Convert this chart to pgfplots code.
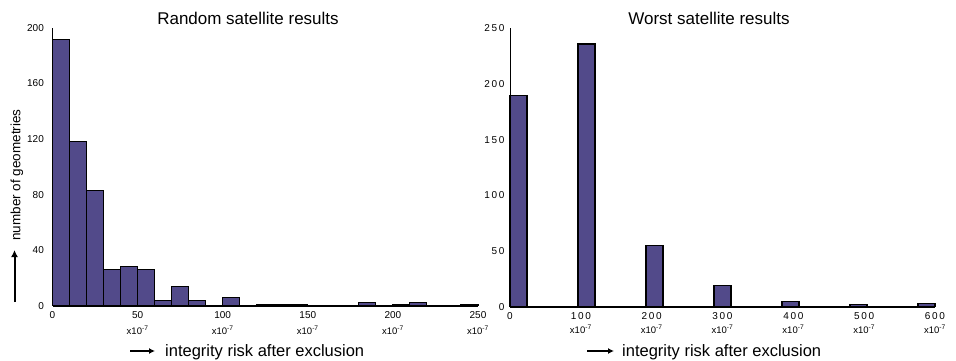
\documentclass[border=0pt]{standalone}
\usepackage{fontspec}
\setmainfont{Liberation Sans}
\usepackage{pgfplots}
\pgfplotsset{compat=1.18}
\usetikzlibrary{arrows.meta}
\definecolor{barc}{RGB}{82,74,138}
\newcommand{\xs}{{\fontsize{9.5}{10}\selectfont x10\textsuperscript{-7}}}
\begin{document}
\begin{tikzpicture}[x=1pt,y=1pt]
\useasboundingbox (0,0) rectangle (956,360);
\pgfplotsset{every axis/.append style={
  scale only axis, clip=false,
  /pgf/number format/assume math mode=true,
  axis lines=left, axis line style={-, line width=0.9pt},
  x axis line style={line width=2pt},
  tick style={draw=none},
  ymin=0,
  xticklabel style={align=center, font=\fontsize{10}{12}\selectfont},
  yticklabel style={font=\fontsize{10}{12}\selectfont},
}}
\begin{axis}[at={(52.5pt,54.3pt)}, anchor=south west,
  width=425.5pt, height=277.7pt,
  xmin=0, xmax=250, ymax=200,
  ytick={0,40,80,120,160,200},
  yticklabels={0,40,80,120,160,200},
  yticklabel style={xshift=-3pt},
  xtick={0,50,100,150,200,250},
  xticklabels={0, 50\\[4pt]\xs, 100\\[4pt]\xs, 150\\[4pt]\xs, 200\\[4pt]\xs, 250\\[4pt]\xs},
]
\addplot[ybar interval, fill=barc, draw=black, line width=1.1pt] coordinates {
(0,192)(10,118)(20,83)(30,26)(40,28)(50,26)(60,4)(70,14)(80,4)(90,0)
(100,6)(110,0)(120,1)(130,1)(140,1)(150,0)(160,0)(170,0)(180,2)(190,0)
(200,1)(210,2)(220,0)(230,0)(240,1)(250,1)};
\end{axis}
\begin{axis}[at={(510pt,53.3pt)}, anchor=south west,
  width=425pt, height=278.3pt,
  xmin=0, xmax=600, ymax=250,
  ytick={0,50,100,150,200,250},
  yticklabels={0, 5\,0, 1\,0\,0, 1\,5\,0, 2\,0\,0, 2\,5\,0},
  xtick={0,100,200,300,400,500,600},
  xticklabels={0, 1\,0\,0\\[2pt]\xs, 2\,0\,0\\[2pt]\xs, 3\,0\,0\\[2pt]\xs, 4\,0\,0\\[2pt]\xs, 5\,0\,0\\[2pt]\xs, 6\,0\,0\\[2pt]\xs},
]
\addplot[ybar interval, fill=barc, draw=black, line width=1.1pt] coordinates {
(0,190)(24,0)(48,0)(72,0)(96,236)(120,0)(144,0)(168,0)(192,55)(216,0)
(240,0)(264,0)(288,19)(312,0)(336,0)(360,0)(384,5)(408,0)(432,0)(456,0)
(480,2)(504,0)(528,0)(552,0)(576,3)(600,3)};
\end{axis}
% titles
\node[font=\fontsize{17}{19}\selectfont] at (248,342) {Random satellite results};
\node[font=\fontsize{17}{19}\selectfont] at (709,342) {Worst satellite results};
% y label
\node[rotate=90, font=\fontsize{13.5}{15}\selectfont] at (17,185) {number of geometries};
\draw[line width=2pt, -{Latex[length=7pt,width=7pt]}] (14.5,58) -- (14.5,110);
% x labels
\draw[line width=1.6pt, -{Latex[length=6pt,width=6pt]}] (130,9) -- (155,9);
\node[anchor=base west, font=\fontsize{16.5}{18}\selectfont, inner sep=0] at (165,4) {integrity risk after exclusion};
\draw[line width=1.6pt, -{Latex[length=6pt,width=6pt]}] (587,9) -- (614,9);
\node[anchor=base west, font=\fontsize{16.5}{18}\selectfont, inner sep=0] at (622,4) {integrity risk after exclusion};
\end{tikzpicture}
\end{document}
